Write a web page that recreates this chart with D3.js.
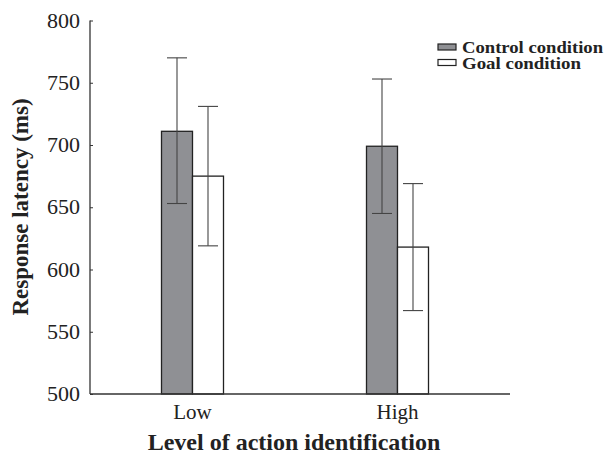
<!DOCTYPE html>
<html>
<head>
<meta charset="utf-8">
<script src="https://cdn.jsdelivr.net/npm/d3@7"></script>
<style>
  body { margin: 0; background: #fff; }
  text { font-family: "Liberation Serif", "Times New Roman", serif; }
</style>
</head>
<body>
<script>
// data
const levels = ['Low', 'High'];
const conditions = ['Control condition', 'Goal condition'];
const means = {
    'Control condition': [711, 699],
    'Goal condition': [675, 618]
};
const errUpper = {
    'Control condition': [770, 753],
    'Goal condition': [731, 669]
};
const errLower = {
    'Control condition': [653, 645],
    'Goal condition': [619, 567]
};
const yTicks = [500, 550, 600, 650, 700, 750, 800];

const width = 607;
const height = 456;
const fills = { 'Control condition': '#8f9094', 'Goal condition': '#ffffff' };

const svg = d3.select('body')
    .append('svg')
    .attr('width', width)
    .attr('height', height);

// scales
const x = d3.scaleBand()
    .domain(levels)
    .range([90, 500])
    .padding(0);
const x1 = d3.scaleBand()
    .domain(conditions)
    .range([-31, 31]);
const y = d3.scaleLinear()
    .domain([500, 800])
    .range([394, 20.5]);

// y axis
const yAxis = svg.append('g')
    .attr('transform', 'translate(90,0)')
    .call(d3.axisRight(y).tickValues(yTicks).tickSize(3).tickFormat(d3.format('d')));
yAxis.select('.domain').attr('stroke', '#333').attr('stroke-width', 1.3).attr('d', `M0,${y(800)}V${y(500)}`);
yAxis.selectAll('.tick line').attr('stroke', '#333');
yAxis.selectAll('.tick text')
    .attr('x', -10)
    .attr('dy', '0.3em')
    .attr('text-anchor', 'end')
    .attr('font-size', 22)
    .attr('fill', '#222');

// bars
levels.forEach((lv, i) => {
    conditions.forEach(c => {
        const cx = x(lv) + x.bandwidth() / 2 + x1(c);
        svg.append('rect')
            .attr('x', cx)
            .attr('y', y(means[c][i]))
            .attr('width', x1.bandwidth())
            .attr('height', y(500) - y(means[c][i]))
            .attr('fill', fills[c])
            .attr('stroke', '#222')
            .attr('stroke-width', 1.3);
    });
});

// error bars
levels.forEach((lv, i) => {
    conditions.forEach(c => {
        const mx = x(lv) + x.bandwidth() / 2 + x1(c) + x1.bandwidth() / 2;
        const g = svg.append('g').attr('stroke', '#444').attr('stroke-width', 1.1);
        g.append('line')
            .attr('x1', mx).attr('x2', mx)
            .attr('y1', y(errUpper[c][i])).attr('y2', y(errLower[c][i]));
        [errUpper[c][i], errLower[c][i]].forEach(v => {
            g.append('line')
                .attr('x1', mx - 10).attr('x2', mx + 10)
                .attr('y1', y(v)).attr('y2', y(v));
        });
    });
});

// x axis
svg.append('line')
    .attr('x1', 90).attr('x2', 510)
    .attr('y1', y(500)).attr('y2', y(500))
    .attr('stroke', '#333').attr('stroke-width', 1.3);
svg.selectAll('.xlab')
    .data(levels)
    .enter()
    .append('text')
    .attr('x', d => x(d) + x.bandwidth() / 2)
    .attr('y', 419)
    .attr('text-anchor', 'middle')
    .attr('font-size', 21)
    .attr('fill', '#222')
    .text(d => d);

// axis titles
svg.append('text')
    .attr('x', 294)
    .attr('y', 450)
    .attr('text-anchor', 'middle')
    .attr('font-size', 24)
    .attr('font-weight', 'bold')
    .attr('fill', '#222')
    .text('Level of action identification');
svg.append('text')
    .attr('transform', 'translate(28,207) rotate(-90)')
    .attr('text-anchor', 'middle')
    .attr('font-size', 23)
    .attr('font-weight', 'bold')
    .attr('fill', '#222')
    .text('Response latency (ms)');

// legend
const legendWidths = [141, 119];
const legend = svg.append('g');
conditions.forEach((c, i) => {
    legend.append('rect')
        .attr('x', 438)
        .attr('y', 44 + i * 15.5)
        .attr('width', 18)
        .attr('height', 6)
        .attr('fill', fills[c])
        .attr('stroke', '#222')
        .attr('stroke-width', 1.2);
    legend.append('text')
        .attr('x', 462)
        .attr('y', 53 + i * 15.5)
        .attr('font-size', 16)
        .attr('font-weight', 'bold')
        .attr('fill', '#222')
        .attr('textLength', legendWidths[i])
        .attr('lengthAdjust', 'spacingAndGlyphs')
        .text(c);
});
</script>
</body>
</html>
